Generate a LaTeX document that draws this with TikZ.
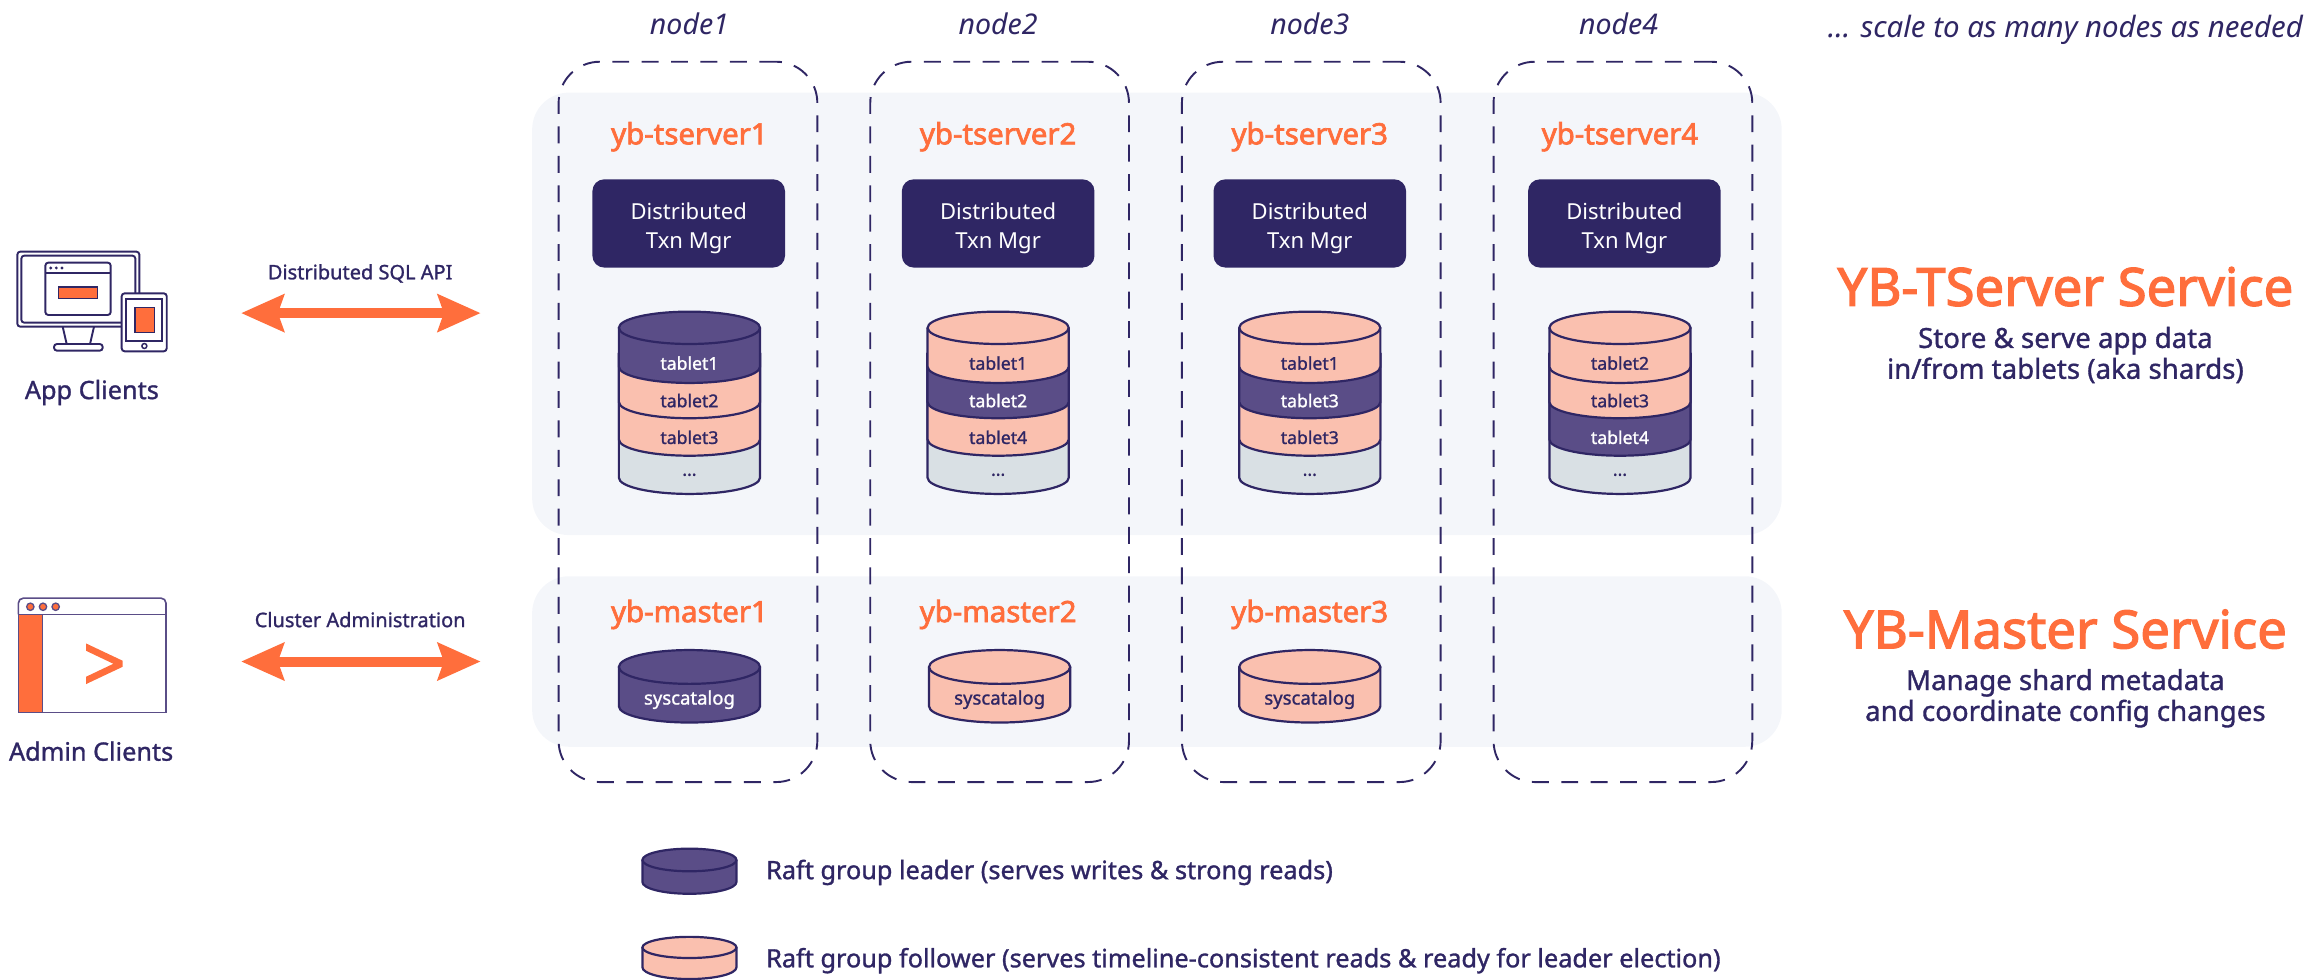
\documentclass[tikz,border=0pt]{standalone}
\usepackage{fontspec}
\usetikzlibrary{arrows.meta,positioning}
\setmainfont{Noto Sans}
\newfontfamily\med[FakeBold=1.2]{Noto Sans}
\newfontfamily\hvy[FakeBold=2.4]{Noto Sans}
\definecolor{ink}{HTML}{2F2664}
\definecolor{lead}{HTML}{5A4D87}
\definecolor{foll}{HTML}{FAC0AF}
\definecolor{rest}{HTML}{D9E0E4}
\definecolor{panel}{HTML}{F4F6FA}
\definecolor{orng}{HTML}{FF6E3C}
\colorlet{leadtxt}{white}
\colorlet{folltxt}{ink}
\tikzset{
  panelbox/.style={fill=panel,rounded corners=25pt,inner sep=0pt,minimum width=850pt},
  nodebox/.style={draw=ink,line width=1.3pt,dash pattern=on 11.5pt off 8.5pt,rounded corners=28pt,inner sep=0pt,minimum width=176pt,minimum height=490pt},
  txnbox/.style={fill=ink,rounded corners=8pt,inner sep=0pt,minimum width=131pt,minimum height=60pt},
  txntext/.style={text=white,align=center,font=\fontsize{15}{19.5}\selectfont},
  svc/.style={text=orng,font=\hvy\fontsize{20}{22}\selectfont},
  nodelbl/.style={text=ink,font=\itshape\fontsize{19.4}{22}\selectfont},
  morelbl/.style={text=ink,font=\itshape\fontsize{20}{22}\selectfont},
  tlbl/.style={font=\med\fontsize{12}{14}\selectfont},
  catlbl/.style={font=\med\fontsize{12.6}{14}\selectfont},
  cylline/.style={draw=ink,line width=1.5pt},
  lgcap/.style={text=ink,font=\med\fontsize{17.2}{20}\selectfont},
  clcap/.style={text=ink,font=\med\fontsize{17.2}{20}\selectfont},
  midcap/.style={text=ink,font=\med\fontsize{13.6}{16}\selectfont},
  bigt/.style={text=orng,font=\hvy\fontsize{35.8}{40}\selectfont},
  subt/.style={text=ink,align=center,font=\med\fontsize{18.8}{21}\selectfont},
  biarrow/.style={orng,line width=6.8pt,{Stealth[length=29pt,width=25pt,inset=4pt]}-{Stealth[length=29pt,width=25pt,inset=4pt]}},
  iconline/.style={draw=ink,line width=1pt},
}
\newcommand{\cylband}[6]{\path[cylline,fill=#6] (#1-#5,#2) -- (#1-#5,#3) arc[start angle=180,end angle=360,x radius=#5pt,y radius=#4pt] -- (#1+#5,#2);}
\newcommand{\cyltop}[5]{\path[cylline,fill=#5] (#1,#2) ellipse[x radius=#3pt,y radius=#4pt];}
\newcommand{\stack}[8]{%
  \cylband{#2}{240}{325}{11}{48}{rest}
  \cylband{#2}{240}{299}{11}{48}{#5}
  \cylband{#2}{240}{273.5}{11}{48}{#4}
  \cylband{#2}{223}{249.5}{11}{48}{#3}
  \cyltop{#2}{223}{48}{11}{#3}
  \node[tlbl,text=#3txt] (#1a) at (#2,247) {#6};
  \node[tlbl,text=#4txt] (#1b) at (#2,272.5) {#7};
  \node[tlbl,text=#5txt] (#1c) at (#2,297.5) {#8};
  \node[tlbl,text=ink] (#1d) at (#2,323) {...};
}
\newcommand{\syscat}[3]{%
  \cylband{#2}{453.7}{480.5}{11}{48}{#3}
  \cyltop{#2}{453.7}{48}{11.5}{#3}
  \node[catlbl,text=#3txt] (#1) at (#2,476) {syscatalog};
}
\newcommand{\txn}[2]{%
  \node[txnbox] (#1) at (#2,152) {};
  \node[txntext] (#1x) at (#2,155.5) {Distributed\\Txn Mgr};
}
\begin{document}
\begin{tikzpicture}[x=1pt,y=-1pt]
\useasboundingbox (0,0) rectangle (1568,666);
\node[panelbox,minimum height=301pt] (tpanel) at (787,213.5) {};
\node[panelbox,minimum height=116pt] (mpanel) at (787,450) {};
\node[nodebox] (n1) at (468,287) {};
\node[nodebox] (n2) at (680,287) {};
\node[nodebox] (n3) at (892,287) {};
\node[nodebox] (n4) at (1104,287) {};
\node[nodelbl] (l1) at (469,16) {node1};
\node[nodelbl] (l2) at (679,16) {node2};
\node[nodelbl] (l3) at (891,16) {node3};
\node[nodelbl] (l4) at (1101,16) {node4};
\node[morelbl] (more) at (1405,20) {... scale to as many nodes as needed};
\node[svc] (ts1) at (469,93) {yb-tserver1};
\node[svc] (ts2) at (679,93) {yb-tserver2};
\node[svc] (ts3) at (891,93) {yb-tserver3};
\node[svc] (ts4) at (1102,93) {yb-tserver4};
\txn{t1}{468.5}
\txn{t2}{679}
\txn{t3}{891}
\txn{t4}{1105}
\stack{sa}{469}{lead}{foll}{foll}{tablet1}{tablet2}{tablet3}
\stack{sb}{679}{foll}{lead}{foll}{tablet1}{tablet2}{tablet4}
\stack{sc}{891}{foll}{lead}{foll}{tablet1}{tablet3}{tablet3}
\stack{sd}{1102}{foll}{foll}{lead}{tablet2}{tablet3}{tablet4}
\node[svc] (m1) at (469,418) {yb-master1};
\node[svc] (m2) at (679,418) {yb-master2};
\node[svc] (m3) at (891,418) {yb-master3};
\syscat{ca}{469}{lead}
\syscat{cb}{680}{foll}
\syscat{cc}{891}{foll}
\node[bigt] (b1) at (1405,195) {YB-TServer Service};
\node[subt] (s1) at (1405,241.5) {Store \& serve app data\\in/from tablets (aka shards)};
\node[bigt] (b2) at (1405,428) {YB-Master Service};
\node[subt] (s2) at (1405,475) {Manage shard metadata\\and coordinate config changes};
\cylband{469}{585}{600}{8}{32}{lead}
\cyltop{469}{585}{32}{7.7}{lead}
\cylband{469}{644.5}{658}{8}{32}{foll}
\cyltop{469}{644.5}{32}{7.2}{foll}
\node[lgcap,anchor=west,inner sep=0pt] (lg1) at (521,593.5) {Raft group leader (serves writes \& strong reads)};
\node[lgcap,anchor=west,inner sep=0pt] (lg2) at (521,653.5) {Raft group follower (serves timeline-consistent reads \& ready for leader election)};
\coordinate (a1l) at (164,213); \coordinate (a1r) at (327,213);
\coordinate (a2l) at (164,450); \coordinate (a2r) at (327,450);
\draw[biarrow] (a1l) -- (a1r);
\draw[biarrow] (a2l) -- (a2r);
\node[midcap] (api) at (245,186) {Distributed SQL API};
\node[midcap] (adm) at (245,421.5) {Cluster Administration};
\node[clcap] (appc) at (62.5,267) {App Clients};
\node[clcap] (admc) at (62,511) {Admin Clients};
\begin{scope}[yshift=-95.2pt,x=.2268pt,y=-.2268pt,rounded corners=2pt]
\draw[iconline,line width=1.3pt] (52,335) rectangle (418,560);
\draw[iconline,line width=1.3pt] (64,347) rectangle (406,548);
\draw[iconline,line width=1.3pt,rounded corners=0pt] (188,560) -- (200,612) (282,560) -- (270,612);
\draw[iconline,line width=1.3pt] (162,612) rectangle (308,632);
\draw[iconline,line width=1.3pt] (136,368) rectangle (332,525);
\draw[iconline,line width=1.3pt] (136,398) -- (332,398);
\fill[ink] (152,384) circle (1.1pt) (169,384) circle (1.1pt) (186,384) circle (1.1pt);
\path[iconline,fill=orng,rounded corners=0pt] (175,441) rectangle (292,475);
\path[iconline,line width=1.3pt,fill=white] (365,460) rectangle (500,634);
\draw[iconline,line width=1.3pt,rounded corners=0pt] (378,476) rectangle (487,602);
\path[iconline,fill=orng,rounded corners=0pt] (405,503) rectangle (463,577);
\draw[iconline] (433,618) circle (1.7pt);
\end{scope}
\begin{scope}[yshift=-387.8pt,x=.2268pt,y=-.2268pt]
\fill[orng] (55,133) rectangle (127,427);
\draw[draw=lead,line width=1.1pt,rounded corners=3.5pt] (55,133) -- (55,84) -- (498,84) -- (498,133);
\draw[draw=lead,line width=1.1pt] (55,133) -- (55,427) -- (498,427) -- (498,133) -- cycle;
\draw[draw=lead,line width=1pt] (127,133) -- (127,427);
\path[draw=lead,line width=.9pt,fill=orng] (91,110) circle (2.5pt) (129,110) circle (2.5pt) (167,110) circle (2.5pt);
\fill[orng] (258,220) -- (368,272) -- (368,290) -- (258,342) -- (258,320) -- (340,281) -- (258,242) -- cycle;
\end{scope}
\end{tikzpicture}
\end{document}
